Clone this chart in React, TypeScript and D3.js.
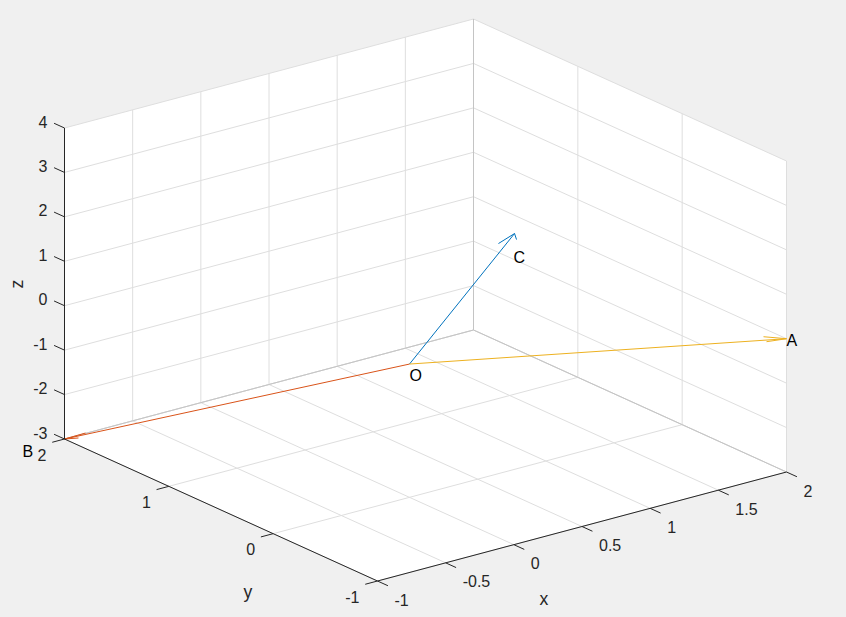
import React from "react";
import * as d3 from "d3";

const W = 846, H = 617;
const xTicks = [-1, -0.5, 0, 0.5, 1, 1.5, 2];
const yTicks = [-1, 0, 1, 2];
const zTicks = [-3, -2, -1, 0, 1, 2, 3, 4];
const origin = [0, 0, 0];
const pointA = [2, -1, 0];
const pointB = [-1, 2, -3];
const pointC = [1, 0.3, 1.8];
const barbsA = [[-0.086, 0.108, 0], [-0.123, 0.031, 0]];
const barbsB = [[0.158, 0.005, 0], [0.075, -0.036, 0]];
const barbsC = [[-0.176, -0.076, 0], [-0.052, -0.087, 0]];

type P = number[];
const xDx = d3.scaleLinear().domain([-1, 2]).range([377.5, 786.5]);
const xDy = d3.scaleLinear().domain([-1, 2]).range([581, 472]);
const yDx = d3.scaleLinear().domain([-1, 2]).range([0, -313]);
const yDy = d3.scaleLinear().domain([-1, 2]).range([0, -142]);
const zDy = d3.scaleLinear().domain([-3, 4]).range([0, -311]);
const proj = (p: P): [number, number] => [
  xDx(p[0]) + yDx(p[1]),
  xDy(p[0]) + yDy(p[1]) + zDy(p[2]),
];
const line = d3.line();
const seg = (a: P, b: P) => line([proj(a), proj(b)]) as string;
const poly = (ps: P[]) => (line(ps.map(proj)) as string) + "Z";

const GRID = "#dedede", EDGE = "#c4c4c4", AXIS = "#262626";
const FONT = "'Liberation Sans', Arial, sans-serif";

function Arrow({ tip, barbs, color }: { tip: P; barbs: P[]; color: string }) {
  return (
    <g stroke={color} strokeWidth={1} fill="none">
      <path d={seg(origin, tip)} />
      {barbs.map((b, i) => (
        <path key={i} d={seg(tip, [tip[0] + b[0], tip[1] + b[1], tip[2] + b[2]])} />
      ))}
    </g>
  );
}

function Note({ p, dx, dy, text }: { p: P; dx: number; dy: number; text: string }) {
  const [x, y] = proj(p);
  return (
    <text x={x + dx} y={y + dy} fontSize={16} fill="#000" dominantBaseline="central">
      {text}
    </text>
  );
}

export default function App() {
  const fmt = (v: number) => String(v);
  return (
    <svg
      width={W}
      height={H}
      style={{ position: "absolute", left: 0, top: 0 }}
      fontFamily={FONT}
    >
      <rect width={W} height={H} fill="#f0f0f0" />
      <path
        d={poly([[-1, 2, 4], [2, 2, 4], [2, -1, 4], [2, -1, -3], [-1, -1, -3], [-1, 2, -3]])}
        fill="#fff"
      />
      <g stroke={GRID} strokeWidth={1} fill="none">
        {xTicks.map((x) => (
          <g key={x}>
            <path d={seg([x, 2, -3], [x, 2, 4])} />
            <path d={seg([x, -1, -3], [x, 2, -3])} />
          </g>
        ))}
        {yTicks.map((y) => (
          <g key={y}>
            <path d={seg([2, y, -3], [2, y, 4])} />
            <path d={seg([-1, y, -3], [2, y, -3])} />
          </g>
        ))}
        {zTicks.map((z) => (
          <g key={z}>
            <path d={seg([-1, 2, z], [2, 2, z])} />
            <path d={seg([2, 2, z], [2, -1, z])} />
          </g>
        ))}
      </g>
      <g stroke={EDGE} strokeWidth={1} fill="none">
        <path d={seg([2, 2, -3], [2, 2, 4])} />
        <path d={seg([-1, 2, -3], [2, 2, -3])} />
        <path d={seg([2, 2, -3], [2, -1, -3])} />
      </g>
      <Arrow tip={pointC} barbs={barbsC} color="#0072BD" />
      <Arrow tip={pointA} barbs={barbsA} color="#EDB120" />
      <Arrow tip={pointB} barbs={barbsB} color="#D95319" />
      <g stroke={AXIS} strokeWidth={1} fill="none">
        <path d={seg([-1, 2, -3], [-1, 2, 4])} />
        <path d={seg([-1, -1, -3], [2, -1, -3])} />
        <path d={seg([-1, -1, -3], [-1, 2, -3])} />
        {xTicks.map((x) => (
          <path key={x} d={seg([x, -1, -3], [x, -1.1, -3])} />
        ))}
        {yTicks.map((y) => (
          <path key={y} d={seg([-1, y, -3], [-1.09, y, -3])} />
        ))}
        {zTicks.map((z) => (
          <path key={z} d={seg([-1, 2, z], [-1, 2.1, z])} />
        ))}
      </g>
      <g fontSize={16} fill={AXIS} dominantBaseline="central">
        {xTicks.map((x) => {
          const [px, py] = proj([x, -1, -3]);
          return (
            <text key={x} x={px + 17} y={py + 19}>
              {fmt(x)}
            </text>
          );
        })}
        {yTicks.map((y) => {
          const [px, py] = proj([-1, y, -3]);
          return (
            <text key={y} x={px - 18} y={py + 16} textAnchor="end">
              {fmt(y)}
            </text>
          );
        })}
        {zTicks.map((z) => {
          const [px, py] = proj([-1, 2, z]);
          return (
            <text key={z} x={px - 17} y={py - 6} textAnchor="end">
              {fmt(z)}
            </text>
          );
        })}
        <g fontSize={17.6}>
          <text x={544} y={599} textAnchor="middle">x</text>
          <text x={248} y={592} textAnchor="middle">y</text>
          <text x={17} y={284} textAnchor="middle" transform="rotate(-90 17 284)">z</text>
        </g>
      </g>
      <Note p={pointA} dx={0} dy={2} text="A" />
      <Note p={pointB} dx={-42} dy={12} text="B" />
      <Note p={pointC} dx={-1} dy={24} text="C" />
      <Note p={origin} dx={0} dy={11} text="O" />
    </svg>
  );
}
